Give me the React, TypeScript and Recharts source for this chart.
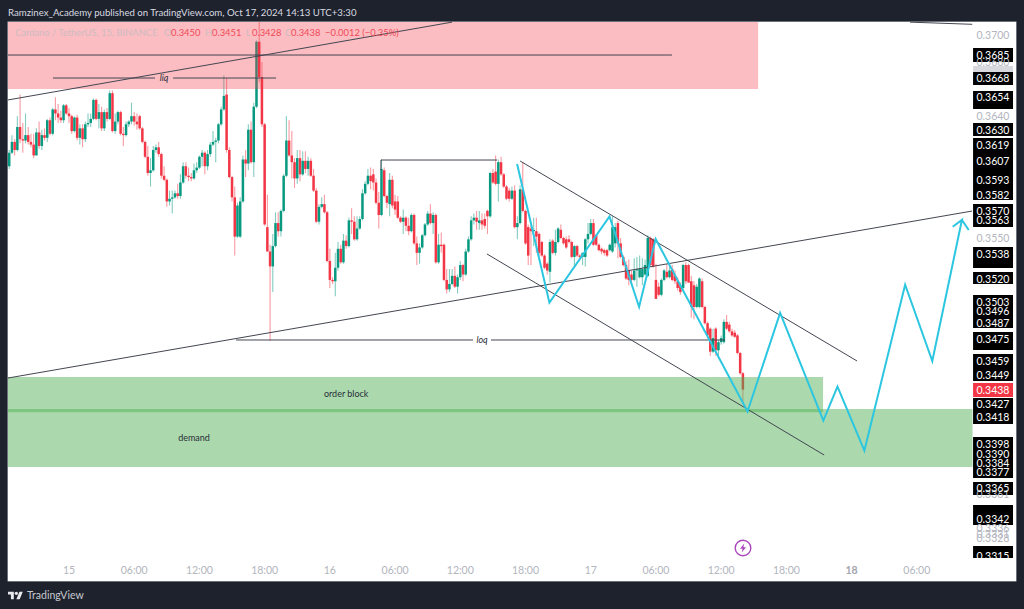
import React from "react";
import {
  ComposedChart,
  Bar,
  Line,
  XAxis,
  YAxis,
  ReferenceArea,
  ReferenceLine,
  ReferenceDot,
} from "recharts";

const FONT = "Lato, 'Noto Sans', sans-serif";
const UP = "#089981";
const DOWN = "#f23645";

// candle prices in ten-thousandths (3603 = 0.3603), one value per 15 min bar
const opens = [
  3603,3613,3621,3615,3632,3623,3622,3626,3621,3619,
  3611,3628,3618,3626,3624,3637,3627,3645,3642,3639,
  3637,3648,3642,3640,3629,3639,3624,3631,3623,3634,
  3635,3638,3652,3638,3643,3631,3643,3638,3657,3629,
  3636,3643,3627,3626,3634,3636,3640,3636,3640,3631,
  3621,3610,3598,3600,3615,3617,3612,3596,3593,3577,
  3579,3580,3583,3581,3591,3603,3596,3595,3594,3600,
  3602,3610,3613,3603,3612,3619,3621,3622,3634,3645,
  3656,3615,3595,3580,3551,3551,3577,3608,3605,3630,
  3606,3647,3695,3669,3634,3558,3540,3529,3544,3561,
  3555,3570,3596,3622,3611,3606,3594,3609,3597,3607,
  3601,3607,3596,3585,3562,3573,3575,3569,3533,3519,
  3518,3528,3542,3532,3548,3544,3563,3562,3549,3557,
  3564,3583,3590,3596,3597,3591,3576,3567,3600,3581,
  3575,3593,3577,3577,3565,3562,3565,3559,3555,3567,
  3546,3539,3543,3552,3560,3568,3561,3567,3532,3545,
  3545,3519,3512,3516,3522,3514,3521,3530,3523,3540,
  3549,3563,3565,3561,3563,3564,3570,3566,3598,3599,
  3590,3606,3597,3588,3585,3579,3585,3558,3561,3586,
  3570,3558,3557,3555,3555,3553,3547,3537,3531,3525,
  3548,3539,3547,3556,3550,3549,3549,3547,3536,3544,
  3537,3536,3536,3549,3553,3561,3552,3545,3542,3541,
  3541,3541,3540,3546,3561,3546,3536,3530,3526,3523,
  3519,3526,3521,3521,3523,3522,3550,3549,3519,3514,
  3508,3519,3525,3521,3527,3522,3518,3515,3513,3530,
  3530,3518,3515,3499,3499,3518,3499,3487,3483,3466,
  3483,3467,3473,3473,3488,3486,3481,3480,3478,3465,
  3450,
];
const highs = [
  3615,3626,3623,3640,3656,3635,3642,3632,3627,3627,
  3631,3636,3630,3631,3638,3639,3646,3654,3649,3644,
  3649,3649,3646,3641,3640,3641,3634,3634,3636,3642,
  3642,3653,3653,3649,3647,3645,3646,3659,3659,3642,
  3644,3644,3632,3636,3637,3650,3643,3642,3641,3632,
  3622,3618,3609,3618,3619,3621,3613,3603,3594,3585,
  3585,3585,3590,3597,3606,3606,3602,3598,3605,3606,
  3611,3615,3614,3615,3621,3629,3624,3635,3647,3670,
  3668,3617,3596,3588,3576,3580,3611,3615,3634,3636,
  3650,3696,3712,3680,3635,3582,3545,3553,3569,3569,
  3571,3597,3640,3637,3629,3609,3615,3615,3614,3614,
  3610,3609,3601,3587,3575,3580,3582,3570,3542,3521,
  3539,3547,3545,3553,3552,3565,3572,3566,3566,3566,
  3586,3592,3601,3602,3601,3594,3584,3608,3602,3582,
  3598,3596,3582,3581,3566,3571,3566,3565,3568,3568,
  3551,3546,3553,3561,3570,3575,3569,3568,3553,3554,
  3546,3527,3527,3527,3529,3523,3533,3531,3542,3551,
  3566,3568,3570,3570,3568,3568,3571,3599,3601,3611,
  3608,3610,3598,3589,3587,3588,3589,3566,3589,3606,
  3571,3560,3560,3565,3565,3554,3548,3538,3532,3549,
  3549,3556,3558,3560,3551,3551,3552,3548,3545,3545,
  3538,3539,3550,3561,3564,3564,3553,3546,3543,3542,
  3542,3546,3566,3561,3563,3550,3537,3533,3534,3526,
  3535,3536,3537,3535,3534,3552,3551,3550,3531,3517,
  3520,3527,3531,3530,3530,3526,3521,3517,3531,3532,
  3531,3522,3518,3516,3521,3520,3500,3488,3484,3483,
  3484,3475,3478,3490,3493,3488,3483,3482,3479,3466,
  3451,
];
const lows = [
  3601,3612,3611,3614,3620,3613,3620,3619,3617,3609,
  3611,3616,3615,3622,3621,3626,3626,3637,3635,3635,
  3635,3641,3635,3627,3628,3622,3619,3617,3621,3632,
  3632,3637,3637,3631,3629,3629,3636,3637,3628,3627,
  3634,3626,3618,3625,3632,3634,3633,3630,3630,3620,
  3609,3596,3588,3599,3613,3610,3594,3592,3573,3574,
  3568,3579,3579,3579,3590,3594,3592,3592,3593,3598,
  3601,3603,3597,3600,3610,3618,3606,3620,3633,3644,
  3613,3594,3577,3537,3550,3550,3576,3595,3600,3605,
  3595,3646,3665,3632,3559,3540,3474,3510,3543,3551,
  3551,3569,3595,3610,3594,3587,3590,3592,3596,3598,
  3596,3595,3584,3561,3560,3572,3568,3532,3513,3516,
  3507,3526,3531,3531,3542,3543,3553,3548,3548,3556,
  3563,3582,3589,3586,3585,3575,3557,3566,3580,3572,
  3566,3572,3567,3564,3561,3553,3555,3552,3554,3545,
  3530,3531,3542,3551,3559,3560,3553,3531,3531,3539,
  3518,3509,3510,3515,3513,3509,3519,3518,3522,3539,
  3548,3560,3556,3556,3556,3557,3553,3565,3590,3589,
  3577,3596,3587,3578,3577,3578,3557,3549,3560,3569,
  3545,3530,3530,3544,3539,3537,3536,3527,3523,3517,
  3538,3537,3546,3549,3545,3542,3546,3535,3529,3536,
  3535,3530,3529,3546,3552,3544,3544,3540,3538,3537,
  3536,3540,3539,3543,3535,3535,3529,3519,3515,3516,
  3518,3514,3520,3515,3522,3521,3529,3528,3505,3507,
  3507,3518,3520,3520,3518,3516,3511,3508,3512,3516,
  3517,3491,3490,3498,3498,3498,3486,3476,3463,3465,
  3463,3463,3471,3472,3482,3480,3477,3476,3464,3449,
  3428,
];
const closes = [
  3613,3621,3615,3632,3623,3622,3626,3621,3619,3611,
  3628,3618,3626,3624,3637,3627,3645,3642,3639,3637,
  3648,3642,3640,3629,3639,3624,3631,3623,3634,3635,
  3638,3652,3638,3643,3631,3643,3638,3657,3629,3636,
  3643,3627,3626,3634,3636,3640,3636,3634,3631,3621,
  3610,3598,3600,3615,3617,3612,3596,3593,3577,3579,
  3580,3583,3581,3591,3603,3596,3595,3594,3600,3602,
  3610,3613,3603,3612,3619,3621,3622,3634,3645,3655,
  3615,3595,3580,3551,3574,3577,3608,3605,3630,3606,
  3647,3695,3669,3634,3560,3540,3529,3544,3561,3555,
  3570,3596,3622,3611,3606,3594,3609,3597,3607,3601,
  3607,3596,3585,3562,3573,3575,3569,3533,3519,3518,
  3528,3542,3532,3548,3544,3563,3562,3549,3557,3564,
  3583,3590,3596,3592,3591,3576,3567,3601,3581,3576,
  3593,3574,3571,3565,3562,3565,3559,3555,3567,3546,
  3539,3543,3552,3560,3568,3561,3567,3532,3545,3544,
  3519,3512,3516,3522,3514,3521,3530,3523,3540,3549,
  3563,3565,3562,3563,3560,3559,3566,3598,3591,3590,
  3606,3597,3588,3579,3579,3585,3558,3561,3586,3570,
  3546,3537,3555,3556,3551,3539,3537,3528,3526,3547,
  3539,3547,3557,3550,3546,3543,3547,3536,3544,3537,
  3536,3539,3549,3553,3561,3545,3545,3541,3540,3539,
  3537,3545,3558,3558,3546,3536,3530,3520,3519,3519,
  3526,3527,3527,3527,3530,3550,3530,3529,3505,3508,
  3519,3526,3521,3526,3519,3518,3513,3510,3530,3518,
  3517,3499,3499,3514,3520,3499,3487,3478,3466,3476,
  3467,3473,3476,3488,3483,3481,3478,3477,3465,3450,
  3438,
];
const FIRST_BAR = -22; // bars before Oct 15 00:00

// x axis is counted in 15 min bars from Oct 15 00:00
const timeTicks = [0, 24, 48, 72, 96, 120, 144, 168, 192, 216, 240, 264, 288, 312];
const timeLabels = ["15", "06:00", "12:00", "18:00", "16", "06:00", "12:00", "18:00", "17", "06:00", "12:00", "18:00", "18", "06:00"];

const boxedPrices = [
  0.3685, 0.3668, 0.3654, 0.363, 0.3619, 0.3607, 0.3593, 0.3582, 0.357, 0.3563, 0.3538, 0.352, 0.3503,
  0.3496, 0.3487, 0.3475, 0.3459, 0.3449, 0.3438, 0.3427, 0.3418, 0.3398, 0.339, 0.3384, 0.3377, 0.3365,
  0.3342, 0.3315,
];
const plainPrices = [0.37, 0.368, 0.364, 0.355, 0.3361, 0.3336, 0.3331, 0.3328];

const X_MIN = -22.45;
const X_MAX = 348.5;
const Y_MIN = 0.32965;
const Y_MAX = 0.37096;

// black boxes behind the price labels: [low, high]
const labelBands = [
  [0.368, 0.36904], [0.36631, 0.36727], [0.36453, 0.36586], [0.36254, 0.3635], [0.35781, 0.36239],
  [0.35581, 0.35751], [0.35278, 0.35433], [0.3516, 0.35249], [0.34835, 0.35079], [0.34672, 0.34805],
  [0.34443, 0.34643], [0.34125, 0.34317], [0.33726, 0.34029], [0.33601, 0.33697], [0.33379, 0.33527],
  [0.33135, 0.33224],
];
const lastPriceBand = [0.34325, 0.34428];
const greyBand = [0.36727, 0.36771];
const labelBandX = [332.7, 347.4];

const pinkZone = { x: [X_MIN, 253.6], y: [0.36601, Y_MAX] };
const orderBlock = { x: [X_MIN, 277.5], y: [0.34212, 0.34473] };
const demandZone = { x: [X_MIN, 332.5], y: [0.33808, 0.34236] };

// drawn lines: [t1, price1, t2, price2]
const trendLines = [
  [-22.45, 0.3652, 140.96, 0.37095],
  [309.5, 0.37095, 332.4, 0.37079],
  [-22.45, 0.36852, 221.9, 0.36852],
  [-5.9, 0.36682, 31.65, 0.36682],
  [38.3, 0.36682, 76.2, 0.36682],
  [-22.45, 0.34465, 332.35, 0.35699],
  [61.5, 0.34746, 148.7, 0.34746],
  [155.3, 0.34746, 241.4, 0.34746],
  [114.8, 0.36076, 157.5, 0.36076],
  [114.8, 0.36076, 114.8, 0.36002],
  [166, 0.36069, 290, 0.34591],
  [153.8, 0.35382, 277.9, 0.33896],
];

const forecastT = [164.9, 176.8, 198.9, 209.8, 215.9, 249.7, 261.7, 277.6, 282.8, 292.7, 307.7, 317.7, 328.6, 325.2, 328.6, 331.1];
const forecastP = [0.36047, 0.35022, 0.35659, 0.3499, 0.35492, 0.34218, 0.34946, 0.3415, 0.34401, 0.33928, 0.35155, 0.34591, 0.35633, 0.35583, 0.35633, 0.35559];

const notes = [
  { text: "liq", t: 35, p: 0.36682, italic: true },
  { text: "loq", t: 152, p: 0.34746, italic: true },
  { text: "order block", t: 102, p: 0.34347, italic: false },
  { text: "demand", t: 46, p: 0.34022, italic: false },
];

const candles = opens.map((open, i) => ({
  t: FIRST_BAR + i,
  open: open / 10000,
  high: highs[i] / 10000,
  low: lows[i] / 10000,
  close: closes[i] / 10000,
}));
const forecast = forecastT.map((t, i) => ({ t, p: forecastP[i] }));

function Candle(props: any) {
  const { x, y, width, height, payload } = props;
  const { open, high, low, close } = payload;
  const perPrice = Math.abs(height) / (high - low);
  const color = close >= open ? UP : DOWN;
  const cx = x + width / 2;
  const top = y + (high - Math.max(open, close)) * perPrice;
  const bodyH = Math.max(Math.abs(open - close) * perPrice, 1);
  return (
    <g>
      <line x1={cx} x2={cx} y1={y} y2={y + Math.abs(height)} stroke={color} strokeOpacity={0.5} strokeWidth={1.1} />
      <rect x={cx - 1.25} y={top} width={2.5} height={bodyH} fill={color} />
    </g>
  );
}

function PriceTick(props: any) {
  const { y, payload } = props;
  const plain = plainPrices.includes(payload.value);
  return (
    <text x={993} y={y} dy={4} textAnchor="middle" fontFamily={FONT} fontSize={10.5} fill={plain ? "#b2b5be" : "#ffffff"}>
      {payload.value.toFixed(4)}
    </text>
  );
}

function TimeTick(props: any) {
  const { x, payload } = props;
  const label = timeLabels[timeTicks.indexOf(payload.value)];
  const bold = label === "18";
  return (
    <text x={x} y={574} textAnchor="middle" fontFamily={FONT} fontSize={10.5} fontWeight={bold ? 700 : 400} fill={bold ? "#a3a6af" : "#b2b5be"}>
      {label}
    </text>
  );
}

const legendParts = [
  { text: "Cardano / TetherUS, 15, BINANCE", x: 15, color: "#cdbcc1" },
  { text: "O", x: 164, color: "#cdbcc1" },
  { text: "0.3450", x: 171, color: "#ef4a56" },
  { text: "H", x: 205, color: "#cdbcc1" },
  { text: "0.3451", x: 212, color: "#ef4a56" },
  { text: "L", x: 246, color: "#cdbcc1" },
  { text: "0.3428", x: 252, color: "#ef4a56" },
  { text: "C", x: 285, color: "#cdbcc1" },
  { text: "0.3438", x: 291, color: "#ef4a56" },
  { text: "−0.0012 (−0.35%)", x: 325, color: "#ef4a56" },
];

export default function App() {
  return (
    <div style={{ position: "absolute", left: 0, top: 0, width: 1024, height: 609, background: "#1e222d", overflow: "hidden" }}>
      <div style={{ position: "absolute", left: 8, top: 22, width: 1008, height: 559, background: "#ffffff", boxShadow: "0 0 0 0.5px #b8bbc2" }} />
      <div style={{ position: "absolute", left: 0, top: 0 }}>
        <ComposedChart width={1024} height={609} data={candles} margin={{ top: 22, right: 7, bottom: 27, left: 8 }}>
          <XAxis
            dataKey="t"
            type="number"
            domain={[X_MIN, X_MAX]}
            allowDataOverflow
            ticks={timeTicks}
            interval={0}
            height={1}
            axisLine={false}
            tickLine={false}
            tick={<TimeTick />}
          />
          <YAxis
            orientation="right"
            type="number"
            domain={[Y_MIN, Y_MAX]}
            allowDataOverflow
            ticks={[...plainPrices, ...boxedPrices]}
            interval={0}
            width={1}
            axisLine={false}
            tickLine={false}
            tick={<PriceTick />}
          />
          <Bar dataKey={(d: any) => [d.low, d.high]} barSize={2} shape={<Candle />} isAnimationActive={false} />
          <ReferenceArea x1={pinkZone.x[0]} x2={pinkZone.x[1]} y1={pinkZone.y[0]} y2={pinkZone.y[1]} fill="#f23645" fillOpacity={0.33} stroke="none" zIndex={350} />
          <ReferenceArea x1={orderBlock.x[0]} x2={orderBlock.x[1]} y1={orderBlock.y[0]} y2={orderBlock.y[1]} fill="#4caf50" fillOpacity={0.47} stroke="none" zIndex={350} />
          <ReferenceArea x1={demandZone.x[0]} x2={demandZone.x[1]} y1={demandZone.y[0]} y2={demandZone.y[1]} fill="#4caf50" fillOpacity={0.47} stroke="none" zIndex={350} />
          <ReferenceArea x1={labelBandX[0]} x2={labelBandX[1]} y1={greyBand[0]} y2={greyBand[1]} fill="#d8d9de" fillOpacity={1} stroke="none" />
          {labelBands.map((b, i) => (
            <ReferenceArea key={i} x1={labelBandX[0]} x2={labelBandX[1]} y1={b[0]} y2={b[1]} fill="#000000" fillOpacity={1} stroke="none" />
          ))}
          <ReferenceArea x1={labelBandX[0]} x2={labelBandX[1]} y1={lastPriceBand[0]} y2={lastPriceBand[1]} fill="#f23645" fillOpacity={1} stroke="none" />
          {trendLines.map((l, i) => (
            <ReferenceLine
              key={i}
              segment={[
                { x: l[0], y: l[1] },
                { x: l[2], y: l[3] },
              ]}
              stroke="#434651"
              strokeWidth={1}
              ifOverflow="visible"
            />
          ))}
          <Line data={forecast} dataKey="p" stroke="#2cc6e0" strokeWidth={2} dot={false} isAnimationActive={false} legendType="none" />
          {notes.map((n) => (
            <ReferenceDot
              key={n.text}
              x={n.t}
              y={n.p}
              r={0}
              fill="none"
              stroke="none"
              label={{ value: n.text, position: "center", fontSize: 9, fontFamily: FONT, fontStyle: n.italic ? "italic" : "normal", fill: "#2a2e39" }}
            />
          ))}
        </ComposedChart>
      </div>
      <div style={{ position: "absolute", left: 8, top: 5, color: "#d8dae0", fontFamily: FONT, fontSize: 9.65, lineHeight: "14px", whiteSpace: "nowrap" }}>
        Ramzinex_Academy published on TradingView.com, Oct 17, 2024 14:13 UTC+3:30
      </div>
      {legendParts.map((p) => (
        <div key={p.x} style={{ position: "absolute", left: p.x, top: 26, color: p.color, fontFamily: FONT, fontSize: 9.4, lineHeight: "14px", whiteSpace: "nowrap" }}>
          {p.text}
        </div>
      ))}
      <svg style={{ position: "absolute", left: 8, top: 590 }} width={15} height={10} viewBox="0 0 36 24">
        <path d="M14 22H7V11H0V4h14v18zM28 22h-8l7.5-18h8L28 22z" fill="#e8e9ec" />
        <circle cx={20} cy={8} r={4} fill="#e8e9ec" />
      </svg>
      <div style={{ position: "absolute", left: 27, top: 587, color: "#c8cad0", fontFamily: FONT, fontSize: 10.5, lineHeight: "16px" }}>TradingView</div>
      <svg style={{ position: "absolute", left: 733, top: 538 }} width={20} height={20} viewBox="0 0 20 20">
        <circle cx={10} cy={10} r={7.8} fill="none" stroke="#ab47bc" strokeWidth={1.4} />
        <path d="M11.2 5.6 L7 10.8 H9.6 L8.8 14.4 L13 9.2 H10.4 Z" fill="#ab47bc" />
      </svg>
    </div>
  );
}
